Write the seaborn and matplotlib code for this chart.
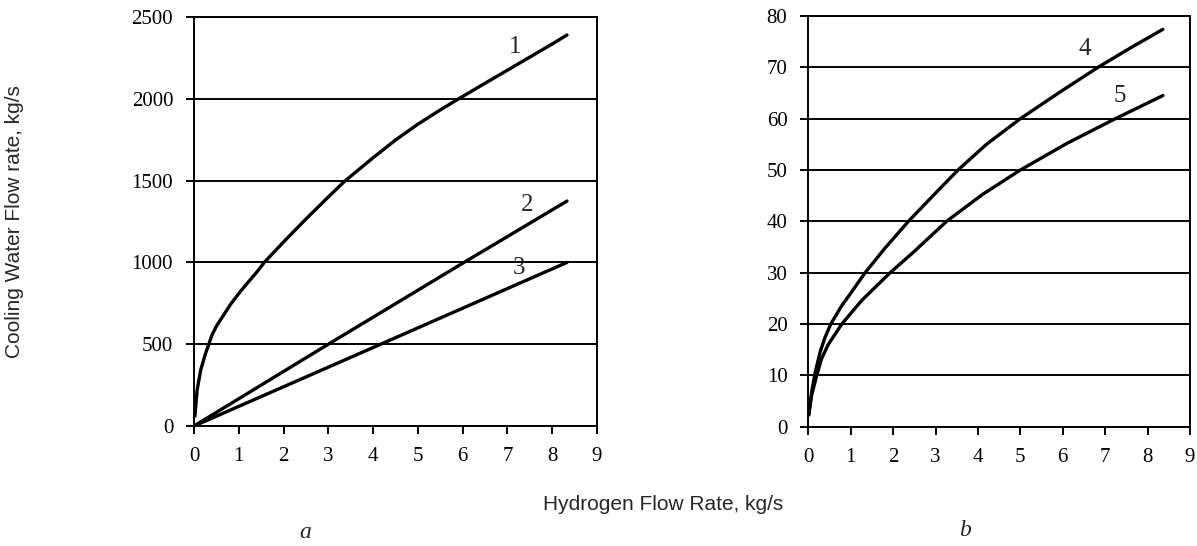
import matplotlib
matplotlib.use("Agg")
import matplotlib.pyplot as plt
import seaborn as sns

# ---- data ----
x1 = [0.02, 0.07, 0.15, 0.26, 0.33, 0.40, 0.5, 0.63, 0.82, 1.0, 1.19, 1.4, 1.57, 2.0, 2.5, 3.0,
      3.36, 4.0, 4.5, 5.0, 5.5, 5.88, 6.5, 7.0, 7.5, 8.0, 8.33]
y1 = [60, 220, 343, 445, 500, 555, 610, 665, 745, 810, 873, 940, 1000, 1125, 1265, 1400,
      1495, 1640, 1748, 1845, 1932, 1995, 2095, 2175, 2255, 2335, 2390]
x2 = [0.0, 3.0, 6.0, 8.33]
y2 = [0, 500, 995, 1375]
x3 = [0.0, 4.17, 8.33]
y3 = [0, 500, 1000]

x4 = [0.01, 0.08, 0.16, 0.28, 0.39, 0.53, 0.79, 1.0, 1.34, 1.81, 2.36, 3.0, 3.53, 4.2, 5.0,
      5.9, 6.83, 7.6, 8.36]
y4 = [2.3, 6.8, 10.5, 14.6, 17.3, 20, 23.6, 26, 30, 34.8, 40, 45.5, 50, 55, 60, 65, 70, 73.8, 77.4]
x5 = [0.01, 0.08, 0.2, 0.31, 0.47, 0.79, 1.26, 1.93, 2.48, 3.26, 4.1, 5.0, 6.1, 7.24, 8.36]
y5 = [2.3, 6.2, 10, 13.2, 16.0, 20, 24.6, 30, 34, 40, 45.2, 50, 55.2, 60, 64.5]

left_labels = ["1", "2", "3"]
left_label_pos = [(7.17, 2318), (7.43, 1350), (7.26, 965)]
right_labels = ["4", "5"]
right_label_pos = [(6.53, 73.6), (7.35, 64.5)]

xticks = list(range(0, 10))
yticks_a = list(range(0, 2501, 500))
yticks_b = list(range(0, 81, 10))

xlabel = "Hydrogen Flow Rate, kg/s"
ylabel = "Cooling Water Flow rate, kg/s"

# ---- figure ----
sns.set_style("white")
W, H = 1197, 546
fig = plt.figure(figsize=(W / 100, H / 100), dpi=100)
ax1 = fig.add_axes([194 / W, 1 - 426 / H, (597 - 194) / W, (426 - 17) / H])
ax2 = fig.add_axes([808.3 / W, 1 - 426.7 / H, (1190 - 808.3) / W, (426.7 - 16) / H])

serif = ["Liberation Serif", "DejaVu Serif"]
sans = ["Liberation Sans", "DejaVu Sans"]
lw = 2.4

for xs, ys in [(x1, y1), (x2, y2), (x3, y3)]:
    sns.lineplot(x=xs, y=ys, ax=ax1, color="black", lw=lw, estimator=None)
for xs, ys in [(x4, y4), (x5, y5)]:
    sns.lineplot(x=xs, y=ys, ax=ax2, color="black", lw=lw, estimator=None)

for ax, yt in [(ax1, yticks_a), (ax2, yticks_b)]:
    ax.set_xlim(0, 9)
    ax.set_ylim(yt[0], yt[-1])
    ax.set_xticks(xticks)
    ax.set_yticks(yt)
    ax.yaxis.grid(True, color="black", lw=1.4)
    ax.xaxis.grid(False)
    for s in ax.spines.values():
        s.set_color("black")
        s.set_linewidth(1.4)
        s.set_visible(True)
    ax.tick_params(axis="both", which="major", direction="out", length=6, width=1.4,
                   pad=9, labelsize=15, bottom=True, left=True, top=False, right=False,
                   colors="black")
    for lab in ax.get_xticklabels() + ax.get_yticklabels():
        lab.set_fontfamily(serif)
    ax.set_xlabel("")
    ax.set_ylabel("")

for t, (x, y) in zip(left_labels, left_label_pos):
    ax1.text(x, y, t, ha="center", va="center", fontsize=18, family=serif)
for t, (x, y) in zip(right_labels, right_label_pos):
    ax2.text(x, y, t, ha="center", va="center", fontsize=18, family=serif)

fig.text(663 / W, 1 - 505 / H, xlabel, ha="center", va="center", fontsize=15, family=sans)
fig.text(15 / W, 1 - 222 / H, ylabel, ha="center", va="center", rotation=90,
         fontsize=15, family=sans)
fig.text(305 / W, 1 - 533 / H, "a", ha="center", va="center", fontsize=17,
         family=serif, style="italic")
fig.text(965 / W, 1 - 531 / H, "b", ha="center", va="center", fontsize=17,
         family=serif, style="italic")

fig.savefig("out.png", dpi=100)
